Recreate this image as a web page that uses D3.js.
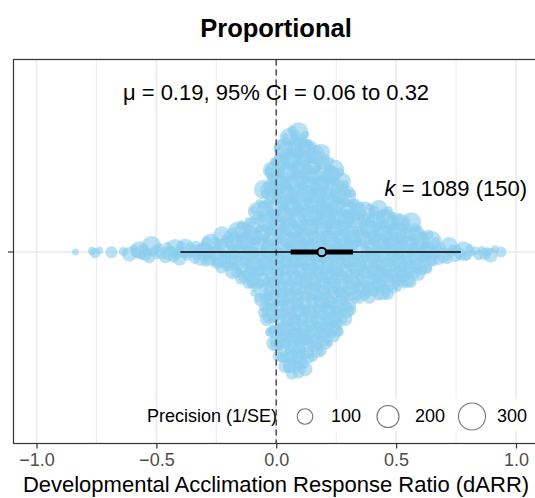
<!DOCTYPE html>
<html><head><meta charset="utf-8">
<script src="https://cdn.jsdelivr.net/npm/d3@7"></script>
<style>html,body{margin:0;padding:0;background:#fff;}svg{display:block;font-family:"Liberation Sans",Arial,Helvetica,sans-serif;}</style>
</head><body><svg id="chart" width="535" height="498"></svg>
<script>
// ---------- data ----------
const categories = ["Proportional"];
const xTicks = [-1.0, -0.5, 0.0, 0.5, 1.0];
const xMinorTicks = [-0.75, -0.25, 0.25, 0.75];
const binStart = -0.85;
const binWidth = 0.025;
const binCounts = [1,0,0,2,1,0,1,0,1,1, 2,3,3,3,3,3,3,4,3,3, 4,4,6,6,7,8,10,11,13,16,
  18,21,35,46,51,54,58,58,57,50, 46,45,45,42,36,33,26,21,20,19,
  22,21,20,18,17,15,14,12,10,8, 6,3,3,3,2,2,2,2,2,2,1,1];
const precisionCycle = [20, 30, 45, 24, 60, 35, 90, 26, 50, 130, 32, 40, 75, 22, 55, 160, 38, 28];
const estimate = 0.19, ciLow = 0.06, ciHigh = 0.32, piLow = -0.40, piHigh = 0.77;
const kEffects = 1089, kStudies = 150;
const legendPrecision = [100, 200, 300];

// ---------- layout ----------
const W = 535, H = 498;
const panel = {left: 13.5, right: 539, top: 59.5, bottom: 443.5};
const yCenter = 252;
const svg = d3.select("#chart");

const x = d3.scaleLinear().domain([-1.096, 1.096]).range([panel.left, panel.right]);
const rScale = d3.scaleSqrt().domain([0, 300]).range([0, 13.5]);

// points from bins
const pts = [];
let idx = 0;
binCounts.forEach((n, b) => {
  for (let j = 0; j < n; j++) {
    const v = binStart + binWidth * b + binWidth * (j + 0.5) / n;
    pts.push({v, p: precisionCycle[idx % precisionCycle.length]});
    idx++;
  }
});

// quasirandom offsets (van der Corput * density)
function vdc(n) { let v = 0, d = 1; while (n > 0) { d *= 2; v += (n % 2) / d; n = Math.floor(n / 2); } return v; }
const bw = 0.033;
const vals = pts.map(d => d.v);
pts.forEach(d => {
  let s = 0;
  for (const u of vals) { const z = (d.v - u) / bw; s += Math.exp(-0.5 * z * z); }
  d.dens = s;
});
const maxDens = d3.max(pts, d => d.dens);
const order = d3.range(pts.length).sort((a, b) => pts[a].v - pts[b].v);
order.forEach((pi, rank) => {
  const d = pts[pi];
  d.off = (vdc(rank + 1) - 0.5) * 2 * 124 * d.dens / maxDens;
});

// ---------- grid ----------
const g = svg.append("g");
g.selectAll("line.minor").data(xMinorTicks).join("line")
  .attr("x1", d => x(d)).attr("x2", d => x(d))
  .attr("y1", panel.top).attr("y2", panel.bottom)
  .attr("stroke", "#EEEEEE").attr("stroke-width", 1.2);
g.selectAll("line.major").data(xTicks).join("line")
  .attr("x1", d => x(d)).attr("x2", d => x(d))
  .attr("y1", panel.top).attr("y2", panel.bottom)
  .attr("stroke", "#EBEBEB").attr("stroke-width", 1.6);
g.append("line").attr("x1", panel.left).attr("x2", W)
  .attr("y1", yCenter).attr("y2", yCenter)
  .attr("stroke", "#EBEBEB").attr("stroke-width", 1.6);

// ---------- points ----------
svg.append("g").selectAll("circle").data(pts).join("circle")
  .attr("cx", d => x(d.v)).attr("cy", d => yCenter + d.off)
  .attr("r", d => rScale(d.p))
  .attr("fill", "#8BCDEE").attr("fill-opacity", 0.6);

// ---------- legend background ----------
svg.append("rect").attr("x", 283).attr("y", 399).attr("width", 252).attr("height", 32).attr("fill", "#fff");

// ---------- zero line ----------
svg.append("line").attr("x1", x(0)).attr("x2", x(0))
  .attr("y1", panel.top).attr("y2", panel.bottom)
  .attr("stroke", "#555").attr("stroke-width", 1.6).attr("stroke-dasharray", "6,4");

// ---------- estimate ----------
svg.append("line").attr("x1", x(piLow)).attr("x2", x(piHigh))
  .attr("y1", yCenter).attr("y2", yCenter).attr("stroke", "#000").attr("stroke-width", 1.6);
svg.append("line").attr("x1", x(ciLow)).attr("x2", x(ciHigh))
  .attr("y1", yCenter).attr("y2", yCenter).attr("stroke", "#000").attr("stroke-width", 5);
svg.append("circle").attr("cx", x(estimate)).attr("cy", yCenter).attr("r", 4.3)
  .attr("fill", "#8BCDEE").attr("stroke", "#000").attr("stroke-width", 2);

// ---------- panel border & axes ----------
svg.append("rect").attr("x", panel.left).attr("y", panel.top)
  .attr("width", panel.right - panel.left).attr("height", panel.bottom - panel.top)
  .attr("fill", "none").attr("stroke", "#333").attr("stroke-width", 1.2);
svg.append("line").attr("x1", 8).attr("x2", panel.left).attr("y1", yCenter).attr("y2", yCenter)
  .attr("stroke", "#333").attr("stroke-width", 1.2);

const xAxis = d3.axisBottom(x).tickValues(xTicks).tickSize(5).tickPadding(5)
  .tickFormat(d => d3.format(".1f")(d).replace("-", "\u2212"));
const ax = svg.append("g").attr("transform", `translate(0,${panel.bottom})`).call(xAxis);
ax.select(".domain").remove();
ax.selectAll(".tick line").attr("stroke", "#333").attr("stroke-width", 1.2);
ax.selectAll(".tick text").attr("fill", "#4D4D4D").style("font-size", "18px")
  .style("font-family", "'Liberation Sans', Arial, sans-serif");

// ---------- texts ----------
svg.append("text").attr("x", 276).attr("y", 37).attr("text-anchor", "middle")
  .style("font-size", "25.5px").style("font-weight", "bold").text(categories[0]);
svg.append("text").attr("x", 276).attr("y", 100).attr("text-anchor", "middle")
  .style("font-size", "22px")
  .text(`\u03BC = ${estimate.toFixed(2)}, 95% CI = ${ciLow.toFixed(2)} to ${ciHigh.toFixed(2)}`);
const kt = svg.append("text").attr("x", 527).attr("y", 196).attr("text-anchor", "end").style("font-size", "22px");
kt.append("tspan").style("font-style", "italic").text("k");
kt.append("tspan").text(` = ${kEffects} (${kStudies})`);
svg.append("text").attr("x", 276).attr("y", 492).attr("text-anchor", "middle")
  .style("font-size", "22px").text("Developmental Acclimation Response Ratio (dARR)");

// ---------- legend ----------
svg.append("text").attr("x", 277).attr("y", 422).attr("text-anchor", "end")
  .style("font-size", "18px").text("Precision (1/SE)");
const legX = [305, 388, 472];
const legTX = [331, 415, 497];
legendPrecision.forEach((p, i) => {
  svg.append("circle").attr("cx", legX[i]).attr("cy", 416.5).attr("r", rScale(p))
    .attr("fill", "none").attr("stroke", "#777").attr("stroke-width", 1.1);
  svg.append("text").attr("x", legTX[i]).attr("y", 422).style("font-size", "18px").text(p);
});
</script></body></html>
